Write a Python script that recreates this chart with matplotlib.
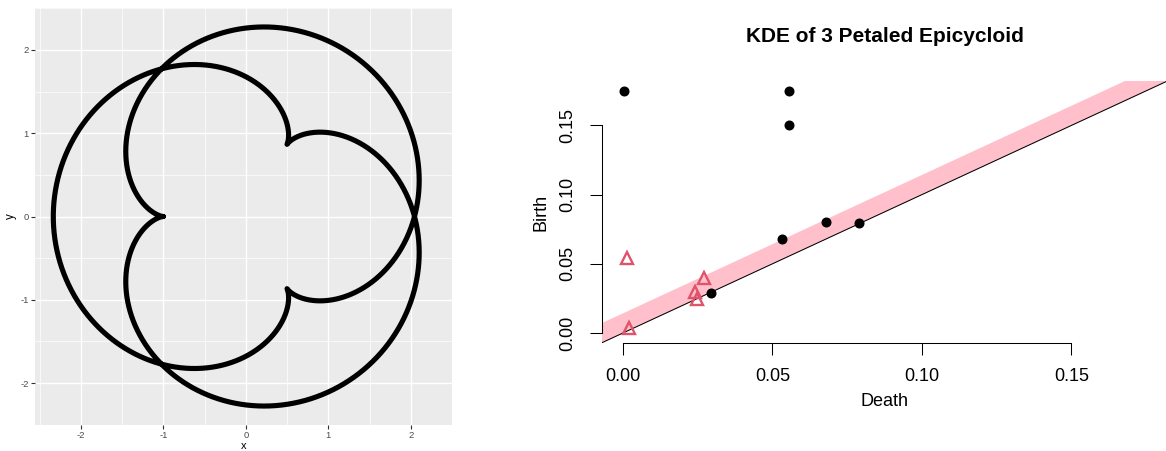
import numpy as np
import matplotlib
matplotlib.use("Agg")
import matplotlib.pyplot as plt

plt.rcParams['font.family'] = ['Liberation Sans', 'DejaVu Sans']

# ---------------- data ----------------
# Left panel: 3-petaled epicycloid (fixed circle radius, rolling circle radius)
fixed_radius = 1.0
rolling_radius = 2.0 / 3.0
n_samples = 4000

left_ticks = [-2, -1, 0, 1, 2]
left_minor = [-2.5, -1.5, -0.5, 0.5, 1.5, 2.5]

# Right panel: persistence diagram of KDE
dim0_death = [0.0004, 0.0554, 0.0554, 0.0533, 0.0680, 0.0791, 0.0293]
dim0_birth = [0.1751, 0.1751, 0.1500, 0.0683, 0.0803, 0.0797, 0.0292]
dim1_death = [0.0012, 0.0271, 0.0240, 0.0249, 0.0021]
dim1_birth = [0.0540, 0.0396, 0.0293, 0.0245, 0.0035]
band_width = 0.0142
diag_lim = [0.0, 0.175]
right_ticks = [0.00, 0.05, 0.10, 0.15]
right_ticklabels = ["0.00", "0.05", "0.10", "0.15"]

# ---------------- figure ----------------
fig = plt.figure(figsize=(11.66, 4.51), dpi=100)

# ---- left panel (ggplot style) ----
axL = fig.add_axes([35 / 1166, 26 / 451, 417 / 1166, 417 / 451])
axL.set_facecolor('#EBEBEB')
t = np.linspace(0, 4 * np.pi, n_samples)
k = (fixed_radius + rolling_radius) / rolling_radius
ex = -((fixed_radius + rolling_radius) * np.cos(t) - rolling_radius * np.cos(k * t))
ey = -((fixed_radius + rolling_radius) * np.sin(t) - rolling_radius * np.sin(k * t))
axL.plot(ex, ey, color='black', lw=3.7, solid_capstyle='round', zorder=3)

xr = ex.max() - ex.min()
yr = ey.max() - ey.min()
axL.set_xlim(ex.min() - 0.05 * xr, ex.max() + 0.05 * xr)
axL.set_ylim(ey.min() - 0.05 * yr, ey.max() + 0.05 * yr)
axL.set_xticks(left_ticks)
axL.set_yticks(left_ticks)
axL.set_xticklabels([str(v) for v in left_ticks])
axL.set_yticklabels([str(v) for v in left_ticks])
axL.set_xticks(left_minor, minor=True)
axL.set_yticks(left_minor, minor=True)
axL.grid(True, which='major', color='white', lw=1.0, zorder=0)
axL.grid(True, which='minor', color='white', lw=0.5, zorder=0)
axL.set_axisbelow(True)
for s in axL.spines.values():
    s.set_visible(False)
axL.tick_params(which='major', length=3, width=0.8, color='#333333',
                labelsize=6.8, labelcolor='#4D4D4D', pad=1.5)
axL.tick_params(which='minor', length=0)
axL.set_xlabel('x', fontsize=8, labelpad=0.3)
axL.set_ylabel('y', fontsize=8.3, labelpad=2.5)

# ---- right panel (base R style persistence diagram) ----
pad = 0.04 * (diag_lim[1] - diag_lim[0])
lo, hi = diag_lim[0] - pad, diag_lim[1] + pad
axR = fig.add_axes([602 / 1166, (451 - 342.7) / 451, (1167 - 602) / 1166, (342.7 - 81.2) / 451])
axR.set_xlim(lo, hi)
axR.set_ylim(lo, hi)
xx = np.array([lo - 1, hi + 1])
axR.fill_between(xx, xx, xx + band_width, color='#FFC0CB', lw=0, zorder=1)
axR.plot(xx, xx, color='black', lw=0.75, zorder=2)
axR.plot(dim0_death, dim0_birth, linestyle='none', marker='o', ms=6.2,
         color='black', zorder=4)
axR.plot(dim1_death, dim1_birth, linestyle='none', marker='^', ms=8.5,
         mfc='none', mec='#DF536B', mew=1.7, zorder=4)

for side in ('top', 'right'):
    axR.spines[side].set_visible(False)
for side in ('left', 'bottom'):
    axR.spines[side].set_bounds(right_ticks[0], right_ticks[-1])
    axR.spines[side].set_linewidth(0.75)
axR.set_xticks(right_ticks)
axR.set_yticks(right_ticks)
axR.set_xticklabels(right_ticklabels)
axR.set_yticklabels(right_ticklabels, rotation=90, va='center')
axR.tick_params(length=8.3, width=0.75, labelsize=13, pad=10)
axR.set_xlabel('Death', fontsize=13, labelpad=6)
axR.set_ylabel('Birth', fontsize=13, labelpad=7)
axR.set_title('KDE of 3 Petaled Epicycloid', fontsize=15, fontweight='bold', pad=28)

fig.savefig('out.png', dpi=100)
